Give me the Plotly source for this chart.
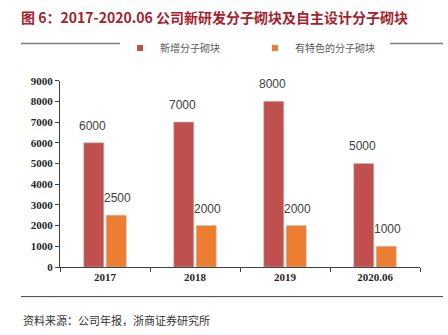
import plotly.graph_objects as go

categories = ["2017", "2018", "2019", "2020.06"]
new_blocks = [6000, 7000, 8000, 5000]
special_blocks = [2500, 2000, 2000, 1000]
series_names = ["新增分子砌块", "有特色的分子砌块"]
series_colors = ["#C0504D", "#ED7D31"]
y_ticks = [0, 1000, 2000, 3000, 4000, 5000, 6000, 7000, 8000, 9000]

fig = go.Figure()
for vals, name, col in zip([new_blocks, special_blocks], series_names, series_colors):
    fig.add_trace(go.Bar(
        x=categories, y=vals, name=name, showlegend=False,
        marker=dict(color=col, line=dict(color="#BDBDBD", width=0.6)),
    ))
# value labels above each bar (bars sit at category index -/+ 12.5 px)
for vals, dx in zip([new_blocks, special_blocks], [-12.5, 12.5]):
    for i, v in enumerate(vals):
        fig.add_annotation(
            x=i, y=v, xref="x", yref="y", xshift=dx, yshift=8, yanchor="bottom", showarrow=False,
            text=str(v), font=dict(family="Liberation Sans, Arial", size=12, color="#404040"),
        )
# legend entries with small square markers
for name, col in zip(series_names, series_colors):
    fig.add_trace(go.Scatter(
        x=[categories[0]], y=[None], mode="markers", name=name,
        marker=dict(symbol="square", size=6, color=col),
    ))

fig.update_layout(
    width=448, height=335,
    margin=dict(l=60, r=28, t=72, b=68),
    paper_bgcolor="white", plot_bgcolor="white",
    barmode="group", bargap=0.5, bargroupgap=0.11,
    showlegend=True,
    title=dict(
        text="<b>图 6：2017-2020.06 公司新研发分子砌块及自主设计分子砌块</b>",
        xref="container", yref="container", x=21 / 448, xanchor="left",
        y=1 - 18 / 335, yanchor="middle", automargin=False,
        font=dict(family="Noto Sans CJK SC", size=14, color="#A6212B"),
    ),
    legend=dict(orientation="h", x=(120 - 60) / 360, xanchor="left", y=1 - 48 / 335, yref="container",
                yanchor="middle", font=dict(family="Noto Sans CJK SC", size=10, color="#595959"),
                itemwidth=30, entrywidth=90, traceorder="normal", tracegroupgap=0),
    xaxis=dict(
        type="category", categoryorder="array", categoryarray=categories,
        range=[-0.5, len(categories) - 0.5],
        showline=True, linecolor="#404040", linewidth=1,
        ticks="outside", tickson="boundaries", ticklen=4, tickcolor="#404040",
        tickfont=dict(family="Liberation Serif, Times New Roman", size=11, color="#262626", weight="bold"),
        showgrid=False,
    ),
    yaxis=dict(
        range=[0, 9000], tickvals=y_ticks,
        showline=True, linecolor="#404040", linewidth=1,
        ticks="outside", ticklen=4, tickcolor="#404040",
        tickfont=dict(family="Liberation Serif, Times New Roman", size=11, color="#262626", weight="bold"),
        showgrid=False, zeroline=False,
    ),
)

fig.add_annotation(
    text="资料来源：公司年报，浙商证券研究所",
    xref="paper", yref="paper", x=0, y=0, xanchor="left", yanchor="middle", align="left",
    xshift=-39, yshift=-(320 - 267),
    showarrow=False, font=dict(family="Noto Sans CJK SC", size=11, color="#333333"),
)

def px_to_paper_x(px):
    return (px - 60) / 360.0

def px_to_paper_y(py):
    return (267 - py) / 195.0

fig.add_shape(type="line", xref="paper", yref="paper",
              x0=px_to_paper_x(21), x1=px_to_paper_x(443),
              y0=px_to_paper_y(33), y1=px_to_paper_y(33),
              line=dict(color="#7F7F7F", width=1.5))
fig.add_shape(type="line", xref="paper", yref="paper",
              x0=px_to_paper_x(21), x1=px_to_paper_x(443),
              y0=px_to_paper_y(298), y1=px_to_paper_y(298),
              line=dict(color="#404040", width=1))

fig.write_html("out.html")
